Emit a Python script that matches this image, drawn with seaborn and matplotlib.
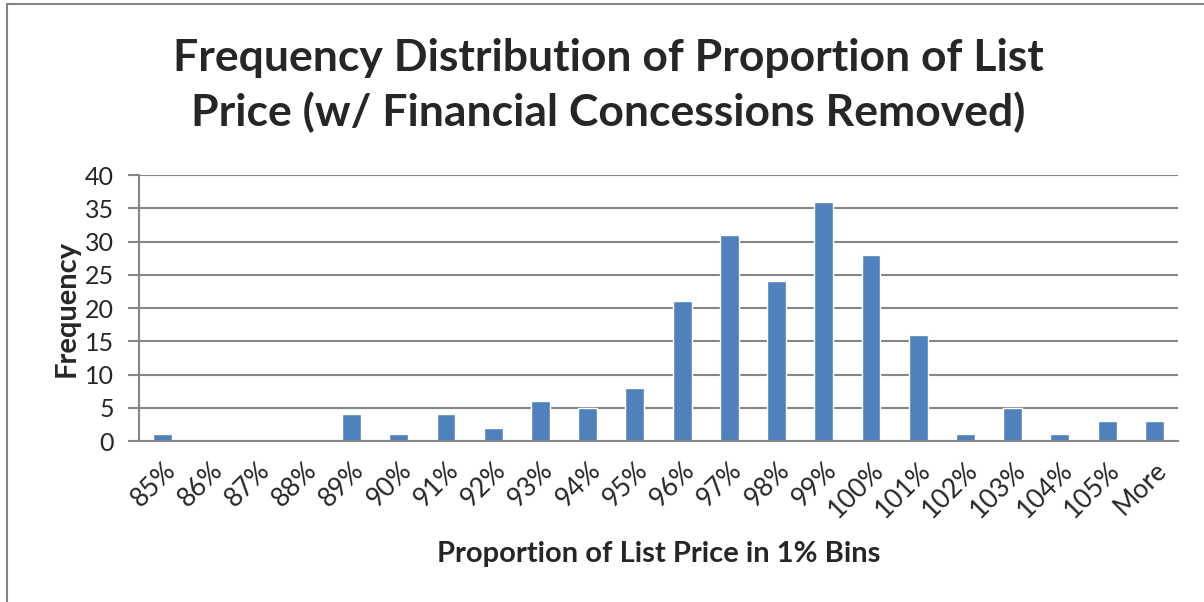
import pandas as pd
import matplotlib.pyplot as plt
import seaborn as sns
from matplotlib.lines import Line2D

bins = ['85%', '86%', '87%', '88%', '89%', '90%', '91%', '92%', '93%', '94%', '95%',
        '96%', '97%', '98%', '99%', '100%', '101%', '102%', '103%', '104%', '105%', 'More']
freq = [1, 0, 0, 0, 4, 1, 4, 2, 6, 5, 8, 21, 31, 24, 36, 28, 16, 1, 5, 1, 3, 3]
y_ticks = [0, 5, 10, 15, 20, 25, 30, 35, 40]

df = pd.DataFrame({'bin': bins, 'freq': freq})

sns.set_style('white')
plt.rcParams['font.family'] = ['Lato', 'DejaVu Sans']

fig = plt.figure(figsize=(12.04, 6.02), dpi=100)
ax = fig.add_axes([0.1155, 0.2674, 0.8629, 0.4419])

sns.barplot(data=df, x='bin', y='freq', color='#4F81BD', width=0.4, saturation=1, ax=ax)

ax.set_ylim(0, 40)
ax.set_xlim(-0.5, len(bins) - 0.5)
ax.set_yticks(y_ticks)
ax.yaxis.grid(True, color='#868686', linewidth=1.5)
ax.set_axisbelow(True)
for s in ['top', 'right']:
    ax.spines[s].set_visible(False)
for s in ['left', 'bottom']:
    ax.spines[s].set_color('#868686')
    ax.spines[s].set_linewidth(1.5)

ax.tick_params(axis='y', which='major', length=8, width=1.5, color='#868686',
               labelsize=18, direction='out', left=True, pad=10)
ax.tick_params(axis='x', length=0, labelsize=19, pad=12)
plt.setp(ax.get_xticklabels(), rotation=45, ha='right', rotation_mode='anchor')

ax.set_xlabel('Proportion of List Price in 1% Bins', fontsize=21, fontweight='bold', labelpad=13)
ax.set_ylabel('Frequency', fontsize=21, fontweight='bold', labelpad=4)

fig.suptitle('Frequency Distribution of Proportion of List\nPrice (w/ Financial Concessions Removed)',
             x=0.505, y=0.937, fontsize=32, fontweight='bold', linespacing=1.4)

# chart frame (cropped at right/bottom)
fig.add_artist(Line2D([7 / 1204, 1], [1 - 4 / 602, 1 - 4 / 602], color='#868686', linewidth=1.5))
fig.add_artist(Line2D([7 / 1204, 7 / 1204], [0, 1 - 4 / 602], color='#868686', linewidth=1.5))

plt.savefig('out.png', dpi=100)
